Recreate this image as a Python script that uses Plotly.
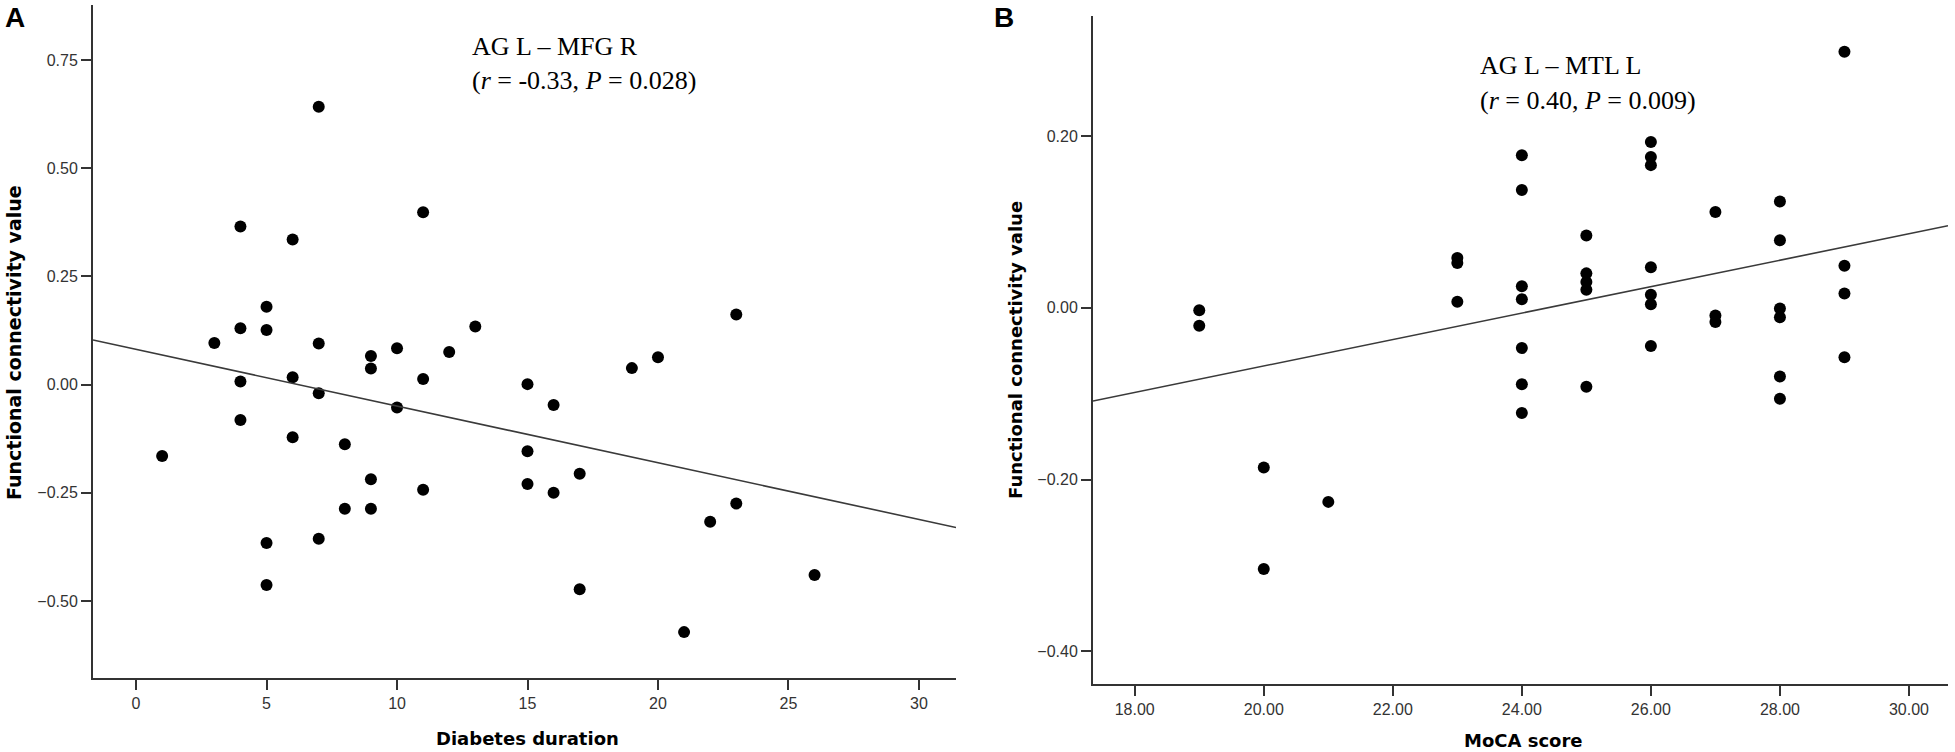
import numpy as np
import plotly.graph_objects as go

W, H = 1955, 752

# ---------------- Data ----------------
# Panel A: Diabetes duration vs functional connectivity (AG L – MFG R)
duration = [7, 4, 6, 11, 5, 4, 5, 3, 7, 9, 9, 10, 12, 13, 23, 20, 19, 15, 6, 4, 11,
            7, 10, 4, 6, 8, 1, 9, 11, 8, 9, 7, 5, 5, 16, 15, 17, 15, 16, 23, 22, 26, 17, 21]
fc_a = [0.642, 0.365, 0.335, 0.398, 0.180, 0.130, 0.126, 0.096, 0.095, 0.066, 0.037,
        0.084, 0.075, 0.134, 0.162, 0.063, 0.038, 0.001, 0.017, 0.007, 0.013,
        -0.020, -0.053, -0.082, -0.122, -0.138, -0.165, -0.219, -0.243, -0.287, -0.287,
        -0.356, -0.366, -0.463, -0.047, -0.154, -0.206, -0.230, -0.250, -0.275, -0.317,
        -0.440, -0.473, -0.572]
# fitted regression line shown in panel A (slope, intercept)
fit_a = (-0.0131, 0.0814)

# Panel B: MoCA score vs functional connectivity (AG L – MTL L)
moca = [19, 19, 20, 20, 21, 23, 23, 23,
        24, 24, 24, 24, 24, 24, 24,
        25, 25, 25, 25, 25,
        26, 26, 26, 26, 26, 26, 26,
        27, 27, 27,
        28, 28, 28, 28, 28, 28,
        29, 29, 29, 29]
fc_b = [-0.003, -0.021, -0.186, -0.304, -0.226, 0.058, 0.052, 0.007,
        0.1775, 0.137, 0.025, 0.010, -0.047, -0.089, -0.1225,
        0.084, 0.040, 0.030, 0.021, -0.092,
        0.193, 0.1755, 0.166, 0.047, 0.015, 0.004, -0.0445,
        0.1115, -0.009, -0.0165,
        0.1236, 0.0786, -0.001, -0.011, -0.080, -0.106,
        0.298, 0.049, 0.0165, -0.0576]
# fitted regression line shown in panel B (slope, intercept)
fit_b = (0.01539, -0.3756)

a_xticks = [0, 5, 10, 15, 20, 25, 30]
a_yticks = [-0.50, -0.25, 0.00, 0.25, 0.50, 0.75]
b_xticks = [18, 20, 22, 24, 26, 28, 30]
b_yticks = [-0.40, -0.20, 0.00, 0.20]

a_title_1 = "AG L – MFG R"
a_title_2 = "(<i>r</i> = -0.33, <i>P</i> = 0.028)"
b_title_1 = "AG L – MTL L"
b_title_2 = "(<i>r</i> = 0.40, <i>P</i> = 0.009)"

# ---------------- Layout constants ----------------
a_xrange = [-1.65, 31.42]
a_yrange = [-0.678, 0.877]
b_xrange = [17.353, 30.605]
b_yrange = [-0.438, 0.3396]


def fx(p):
    return p / W


def fy(p):
    return 1 - p / H


AX = "#333333"
TICKFONT = dict(family="Liberation Sans, Arial, sans-serif", size=16, color="#333333")
TITLEFONT = "DejaVu Sans, Verdana, sans-serif"
SERIF = "Liberation Serif, Times New Roman, serif"


def fit_line(fit, xr):
    k, b = fit
    xs = np.array(xr, float)
    return xs, k * xs + b


fig = go.Figure()

# Panel A
fig.add_trace(go.Scatter(x=duration, y=fc_a, mode="markers",
                         marker=dict(size=12, color="black", line=dict(width=0)),
                         xaxis="x", yaxis="y", showlegend=False))
lx, ly = fit_line(fit_a, a_xrange)
fig.add_trace(go.Scatter(x=lx, y=ly, mode="lines", line=dict(color="#3a3a3a", width=1.6),
                         xaxis="x", yaxis="y", showlegend=False))

# Panel B
fig.add_trace(go.Scatter(x=moca, y=fc_b, mode="markers",
                         marker=dict(size=12, color="black", line=dict(width=0)),
                         xaxis="x2", yaxis="y2", showlegend=False))
lx2, ly2 = fit_line(fit_b, b_xrange)
fig.add_trace(go.Scatter(x=lx2, y=ly2, mode="lines", line=dict(color="#3a3a3a", width=1.6),
                         xaxis="x2", yaxis="y2", showlegend=False))

axis_common = dict(showgrid=False, zeroline=False, showline=True, linecolor=AX, linewidth=2,
                   ticks="outside", ticklen=10, tickwidth=2, tickcolor=AX, tickfont=TICKFONT,
                   mirror=False)

fig.update_layout(
    width=W, height=H,
    margin=dict(l=0, r=0, t=0, b=0),
    paper_bgcolor="white", plot_bgcolor="white",
    xaxis=dict(domain=[fx(93), fx(956)], range=a_xrange, anchor="y",
               tickvals=a_xticks, ticktext=[str(v) for v in a_xticks], **axis_common),
    yaxis=dict(domain=[fy(678), fy(5)], range=a_yrange, anchor="x",
               tickvals=a_yticks, tickformat=".2f", **axis_common),
    xaxis2=dict(domain=[fx(1093), fx(1948)], range=b_xrange, anchor="y2",
                tickvals=b_xticks, tickformat=".2f", **axis_common),
    yaxis2=dict(domain=[fy(684), fy(16)], range=b_yrange, anchor="x2",
                tickvals=b_yticks, tickformat=".2f", **axis_common),
)

ann = []
# panel letters
ann.append(dict(text="<b>A</b>", x=fx(15), y=fy(18), xref="paper", yref="paper",
                showarrow=False, xanchor="center", yanchor="middle",
                font=dict(family="Liberation Sans, Arial", size=28, color="black")))
ann.append(dict(text="<b>B</b>", x=fx(1004), y=fy(18), xref="paper", yref="paper",
                showarrow=False, xanchor="center", yanchor="middle",
                font=dict(family="Liberation Sans, Arial", size=28, color="black")))
# axis titles
ann.append(dict(text="<b>Diabetes duration</b>", x=fx(527), y=fy(738), xref="paper", yref="paper",
                showarrow=False, xanchor="center", yanchor="middle",
                font=dict(family=TITLEFONT, size=18, color="black")))
ann.append(dict(text="<b>MoCA score</b>", x=fx(1523), y=fy(740), xref="paper", yref="paper",
                showarrow=False, xanchor="center", yanchor="middle",
                font=dict(family=TITLEFONT, size=18, color="black")))
ann.append(dict(text="<b>Functional connectivity value</b>", x=fx(14), y=fy(343),
                xref="paper", yref="paper", textangle=-90,
                showarrow=False, xanchor="center", yanchor="middle",
                font=dict(family=TITLEFONT, size=19, color="black")))
ann.append(dict(text="<b>Functional connectivity value</b>", x=fx(1015), y=fy(350),
                xref="paper", yref="paper", textangle=-90,
                showarrow=False, xanchor="center", yanchor="middle",
                font=dict(family=TITLEFONT, size=18, color="black")))
# correlation labels
for txt, px_x, px_y in [(a_title_1, 470, 46), (a_title_2, 470, 80),
                        (b_title_1, 1478, 66), (b_title_2, 1478, 101)]:
    ann.append(dict(text=txt, x=fx(px_x), y=fy(px_y), xref="paper", yref="paper",
                    showarrow=False, xanchor="left", yanchor="middle",
                    font=dict(family=SERIF, size=26, color="black")))

fig.update_layout(annotations=ann)

fig.write_html("out.html",
               config={"displayModeBar": False},
               post_script="document.body.style.margin='0';document.body.style.overflow='hidden';")
